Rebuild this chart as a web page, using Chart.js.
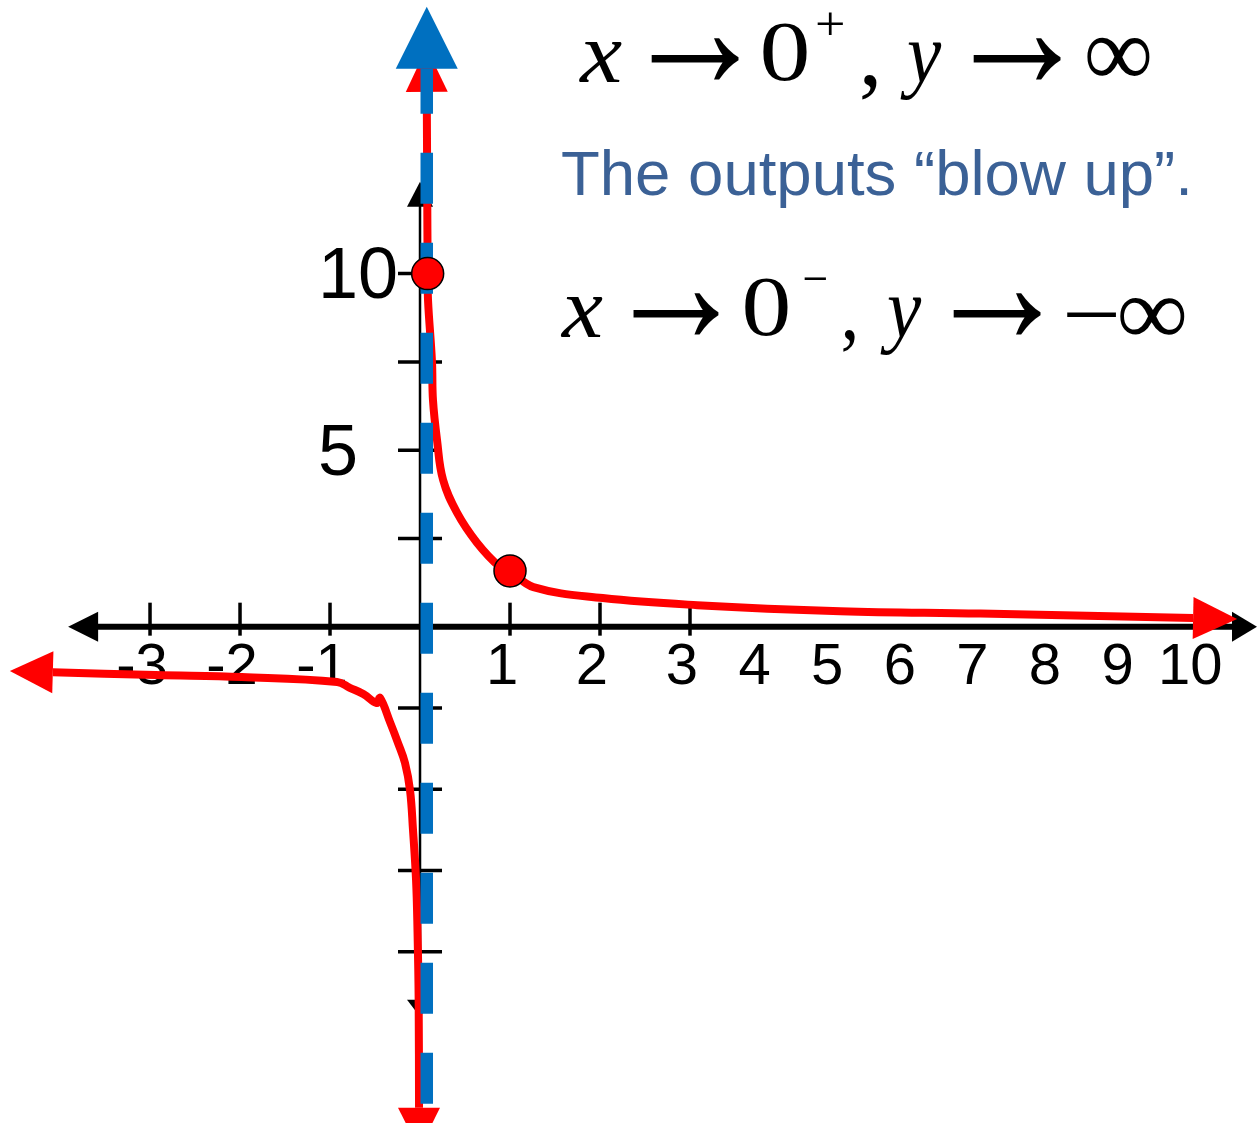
<!DOCTYPE html>
<html>
<head>
<meta charset="utf-8">
<script src="https://cdn.jsdelivr.net/npm/chart.js@4.4.1/dist/chart.umd.min.js"></script>
<style>
html, body { margin: 0; padding: 0; background: #fff; overflow: hidden; }
canvas { display: block; }
</style>
</head>
<body>
<canvas id="graph" width="1257" height="1123"></canvas>
<script>
// right branch (x > 0)
const rightX = [0.075, 0.08, 0.085, 0.089, 0.133, 0.144, 0.189, 0.256, 0.411, 0.633, 0.889, 1.0, 1.26, 2.03, 3.1, 5.07, 7.0, 9.93];
const rightY = [15.15, 12.5, 10.0, 9.25, 7.5, 6.42, 5.29, 4.16, 3.23, 2.38, 1.69, 1.58, 1.12, 0.81, 0.61, 0.44, 0.37, 0.245];

// left branch (x < 0)
const leftX = [-4.08, -2.94, -1.98, -0.92, -0.78, -0.63, -0.48, -0.445, -0.33, -0.244, -0.167, -0.111, -0.078, -0.044, -0.028, -0.015, -0.011];
const leftY = [-1.40, -1.49, -1.55, -1.70, -1.88, -2.07, -2.35, -2.19, -2.96, -3.58, -4.19, -5.03, -6.25, -7.79, -9.33, -11.5, -14.8];

// the two marked points
const markerX = [0.085, 1.0];
const markerY = [10.0, 1.58];

// vertical asymptote (dashed blue)
const asymX = [0.075, 0.075];
const asymY = [15.8, -16.5];

// axes
const xTicks = [-3, -2, -1, 1, 2, 3];
const xLabels = [-3, -2, -1, 1, 2, 3, 4, 5, 6, 7, 8, 9, 10];
const yTicks = [-10, -7.5, -5, -2.5, 2.5, 5, 7.5, 10];
const yLabels = [5, 10];
const xAxisEnds = [-3.91, 10.81];
const yAxisEnds = [-12.0, 12.6];

const SANS = '"Liberation Sans", Arial, sans-serif';
const SERIF = '"Liberation Serif", "Times New Roman", "DejaVu Serif", serif';

// the picture's x axis is squeezed past 3, and y runs a bit tighter below 0
class BrokenScale extends Chart.LinearScale {
  warp(v) {
    const b = this.options.breakAt ?? 0, s = this.options.stretch ?? 1;
    return v <= b ? v : b + (v - b) * s;
  }
  unwarp(w) {
    const b = this.options.breakAt ?? 0, s = this.options.stretch ?? 1;
    return w <= b ? w : b + (w - b) / s;
  }
  getPixelForValue(v) {
    if (v === null || v === undefined) return NaN;
    const lo = this.warp(this.min), hi = this.warp(this.max);
    return this.getPixelForDecimal((this.warp(v) - lo) / (hi - lo));
  }
  getValueForPixel(p) {
    const lo = this.warp(this.min), hi = this.warp(this.max);
    return this.unwarp(lo + this.getDecimalForPixel(p) * (hi - lo));
  }
}
BrokenScale.id = 'broken';
BrokenScale.defaults = Chart.LinearScale.defaults;
Chart.register(BrokenScale);

const pts = (xs, ys) => xs.map((x, i) => ({ x: x, y: ys[i] }));

// triangle whose base sits on `base`, pointing away from `from`
function triangle(ctx, base, from, len, half, color) {
  const dx = base.x - from.x, dy = base.y - from.y;
  const d = Math.hypot(dx, dy) || 1;
  const ux = dx / d, uy = dy / d;
  ctx.beginPath();
  ctx.moveTo(base.x + ux * len, base.y + uy * len);
  ctx.lineTo(base.x - uy * half, base.y + ux * half);
  ctx.lineTo(base.x + uy * half, base.y - ux * half);
  ctx.closePath();
  ctx.fillStyle = color;
  ctx.fill();
}

// squeeze a glyph's ink box into [x0, x1] x [y0, y1]
function fitText(ctx, str, font, box) {
  ctx.font = font;
  const m = ctx.measureText(str);
  const w = m.actualBoundingBoxLeft + m.actualBoundingBoxRight;
  const h = m.actualBoundingBoxAscent + m.actualBoundingBoxDescent;
  ctx.save();
  ctx.translate(box[0], box[2]);
  ctx.scale((box[1] - box[0]) / w, (box[3] - box[2]) / h);
  ctx.textAlign = 'left';
  ctx.textBaseline = 'alphabetic';
  ctx.fillText(str, m.actualBoundingBoxLeft, m.actualBoundingBoxAscent);
  ctx.restore();
}

const axesPlugin = {
  id: 'axes',
  beforeDatasetsDraw(chart) {
    const ctx = chart.ctx;
    const xs = chart.scales.x, ys = chart.scales.y;
    const x0 = xs.getPixelForValue(0), y0 = ys.getPixelForValue(0);
    const xl = xs.getPixelForValue(xAxisEnds[0]), xr = xs.getPixelForValue(xAxisEnds[1]);
    const yt = ys.getPixelForValue(yAxisEnds[1]), yb = ys.getPixelForValue(yAxisEnds[0]);
    ctx.save();
    ctx.strokeStyle = '#000';

    // x axis with arrows
    ctx.lineWidth = 6;
    ctx.beginPath(); ctx.moveTo(xl + 28, y0); ctx.lineTo(xr - 23, y0); ctx.stroke();
    triangle(ctx, { x: xl + 30, y: y0 }, { x: xl + 60, y: y0 }, 30, 15, '#000');
    triangle(ctx, { x: xr - 25, y: y0 }, { x: xr - 60, y: y0 }, 25, 15, '#000');

    // y axis with arrows
    ctx.lineWidth = 2.5;
    ctx.beginPath(); ctx.moveTo(x0, yt + 24); ctx.lineTo(x0, yb - 15); ctx.stroke();
    triangle(ctx, { x: x0, y: yt + 25 }, { x: x0, y: yt + 60 }, 25, 13, '#000');
    triangle(ctx, { x: x0, y: yb - 17 }, { x: x0, y: yb - 60 }, 17, 13, '#000');

    // tick marks
    ctx.lineWidth = 3.5;
    xTicks.forEach(v => {
      const px = xs.getPixelForValue(v);
      ctx.beginPath(); ctx.moveTo(px, y0 - 24); ctx.lineTo(px, y0 + 9); ctx.stroke();
    });
    yTicks.forEach(v => {
      const py = ys.getPixelForValue(v);
      ctx.beginPath(); ctx.moveTo(x0 - 22, py); ctx.lineTo(x0 + 22, py); ctx.stroke();
    });

    // tick labels
    ctx.fillStyle = '#000';
    ctx.font = '58px ' + SANS;
    ctx.textAlign = 'center';
    ctx.textBaseline = 'alphabetic';
    xLabels.forEach(v => {
      ctx.fillText(String(v), xs.getPixelForValue(v) - 8, y0 + 57);
    });
    ctx.font = '72px ' + SANS;
    ctx.textAlign = 'right';
    ctx.textBaseline = 'middle';
    yLabels.forEach(v => {
      ctx.fillText(String(v), x0 - (v === 10 ? 22 : 62), ys.getPixelForValue(v) + 5);
    });
    ctx.restore();
  }
};

const headsPlugin = {
  id: 'heads',
  afterDatasetDraw(chart, args) {
    const ds = chart.data.datasets[args.index];
    const p = args.meta.data;
    const n = p.length;
    if (ds.headStart) triangle(chart.ctx, p[0], p[1], ds.headStart[0], ds.headStart[1], ds.borderColor);
    if (ds.headEnd) triangle(chart.ctx, p[n - 1], p[n - 2], ds.headEnd[0], ds.headEnd[1], ds.borderColor);
  }
};

const textPlugin = {
  id: 'notes',
  afterDraw(chart) {
    const ctx = chart.ctx;
    ctx.save();
    ctx.fillStyle = '#000';
    const it = 'italic 88px ' + SERIF, up = '88px ' + SERIF, small = '52px ' + SERIF;
    [
      ['x', it, [578, 622, 42, 82]],
      ['\u2192', up, [650, 740, 36, 80]],
      ['0', up, [763, 807, 23, 82]],
      ['+', small, [817, 843, 12, 35]],
      [',', up, [862, 877, 75, 100]],
      ['y', it, [900, 942, 42, 100]],
      ['\u2192', up, [972, 1062, 36, 80]],
      ['\u221E', up, [1087, 1150, 37, 77]],
      ['x', it, [560, 603, 297, 337]],
      ['\u2192', up, [632, 720, 291, 335]],
      ['0', up, [745, 788, 278, 337]],
      ['\u2212', small, [804, 826, 277, 281]],
      [',', up, [843, 855, 330, 352]],
      ['y', it, [880, 922, 297, 355]],
      ['\u2192', up, [952, 1042, 291, 335]],
      ['\u2212', up, [1067, 1117, 312, 317]],
      ['\u221E', up, [1120, 1185, 297, 335]]
    ].forEach(([s, f, b]) => fitText(ctx, s, f, b));

    ctx.fillStyle = '#3B6196';
    ctx.font = '63.5px ' + SANS;
    ctx.textAlign = 'left';
    ctx.textBaseline = 'alphabetic';
    ctx.fillText('The outputs \u201Cblow up\u201D.', 561, 195);
    ctx.restore();
  }
};

new Chart(document.getElementById('graph'), {
  type: 'line',
  data: {
    datasets: [
      {
        label: 'points',
        data: pts(markerX, markerY),
        showLine: false,
        pointRadius: 16,
        pointBackgroundColor: '#FF0000',
        pointBorderColor: '#000000',
        pointBorderWidth: 1.5,
        order: 0
      },
      {
        label: 'asymptote',
        data: pts(asymX, asymY),
        borderColor: '#0070C0',
        borderWidth: 12.5,
        borderDash: [51, 39],
        borderDashOffset: 6,
        borderCapStyle: 'butt',
        pointRadius: 0,
        tension: 0,
        order: 1,
        headStart: [62, 31]
      },
      {
        label: 'x > 0',
        data: pts(rightX, rightY),
        borderColor: '#FF0000',
        borderWidth: 8,
        borderCapStyle: 'butt',
        borderJoinStyle: 'round',
        pointRadius: 0,
        tension: 0.4,
        order: 2,
        headStart: [44, 21],
        headEnd: [44, 21]
      },
      {
        label: 'x < 0',
        data: pts(leftX, leftY),
        borderColor: '#FF0000',
        borderWidth: 8,
        borderCapStyle: 'butt',
        borderJoinStyle: 'round',
        pointRadius: 0,
        tension: 0.4,
        order: 2,
        headStart: [43, 21],
        headEnd: [42, 21]
      }
    ]
  },
  options: {
    responsive: false,
    animation: false,
    devicePixelRatio: 1,
    layout: { padding: 0, autoPadding: false },
    plugins: {
      legend: { display: false },
      tooltip: { enabled: false }
    },
    scales: {
      x: { type: 'broken', min: -4.667, max: 10.81, breakAt: 3, stretch: 0.8067, display: false },
      y: { type: 'broken', min: -15.27, max: 17.75, breakAt: 0, stretch: 1.0862, display: false }
    }
  },
  plugins: [axesPlugin, headsPlugin, textPlugin]
});
</script>
</body>
</html>
